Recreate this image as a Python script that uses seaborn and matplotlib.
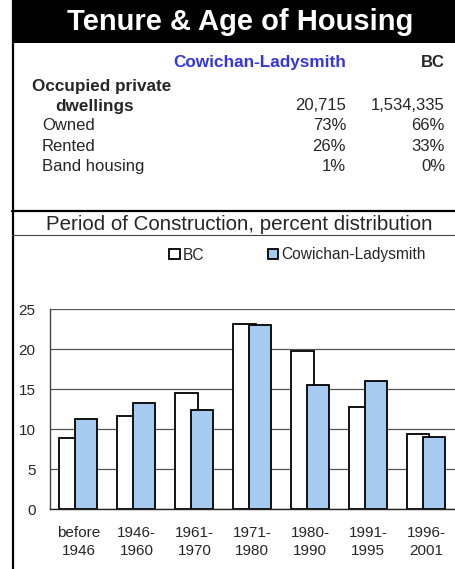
import numpy as np
import matplotlib
matplotlib.use("Agg")
import matplotlib.pyplot as plt
from matplotlib.lines import Line2D
from matplotlib.patches import Rectangle, Patch
import seaborn as sns

# data
periods = ["before\n1946", "1946-\n1960", "1961-\n1970", "1971-\n1980",
           "1980-\n1990", "1991-\n1995", "1996-\n2001"]
bc_pct = [8.9, 11.7, 14.5, 23.2, 19.75, 12.8, 9.4]
cl_pct = [11.3, 13.3, 12.4, 23.1, 15.5, 16.1, 9.0]

row_labels = ["Owned", "Rented", "Band housing"]
cl_values = ["73%", "26%", "1%"]
bc_values = ["66%", "33%", "0%"]
cl_dwellings = "20,715"
bc_dwellings = "1,534,335"

sns.set_style("white")
plt.rcParams["font.family"] = ["Liberation Sans", "DejaVu Sans"]

W, H = 455, 569
fig = plt.figure(figsize=(W / 100, H / 100), dpi=100)


def fx(x):
    return x / W


def fy(y):
    return 1 - y / H


# header band
fig.add_artist(Rectangle((fx(12), fy(43)), 1 - fx(12), 43 / H,
                         transform=fig.transFigure, facecolor="black", edgecolor="none"))
fig.text(fx(240), fy(22), "Tenure & Age of Housing", color="white", fontsize=21,
         fontweight="bold", ha="center", va="center")

# frame lines
fig.add_artist(Line2D([fx(12.5), fx(12.5)], [0, 1], transform=fig.transFigure,
                      color="black", lw=1.6))
fig.add_artist(Line2D([fx(12), 1], [fy(210.5), fy(210.5)], transform=fig.transFigure,
                      color="black", lw=1.6))
fig.add_artist(Line2D([fx(12), 1], [fy(235), fy(235)], transform=fig.transFigure,
                      color="#444444", lw=0.8))

# table
blue_txt = "#3535DD"
fig.text(fx(346), fy(67), "Cowichan-Ladysmith", color=blue_txt, fontsize=12.3,
         fontweight="bold", ha="right", va="baseline")
fig.text(fx(445), fy(67), "BC", fontsize=12, fontweight="bold", ha="right", va="baseline")
fig.text(fx(32), fy(91), "Occupied private", fontsize=12.3, fontweight="bold", va="baseline")
fig.text(fx(55), fy(110.5), "dwellings", fontsize=12.3, fontweight="bold", va="baseline")
fig.text(fx(346), fy(110.5), cl_dwellings, fontsize=12, ha="right", va="baseline")
fig.text(fx(445), fy(110.5), bc_dwellings, fontsize=12, ha="right", va="baseline")
for i, (lab, c, b) in enumerate(zip(row_labels, cl_values, bc_values)):
    yb = 130.5 + i * 20.2
    fig.text(fx(42), fy(yb), lab, fontsize=12, va="baseline")
    fig.text(fx(346), fy(yb), c, fontsize=12, ha="right", va="baseline")
    fig.text(fx(445), fy(yb), b, fontsize=12, ha="right", va="baseline")

fig.text(fx(239), fy(230.5), "Period of Construction, percent distribution",
         fontsize=14.8, ha="center", va="baseline")

# chart
ax = fig.add_axes([fx(49.5), 59.7 / H, (W - 49.5) / W, 200 / H])
x = np.arange(len(periods))
offset = 0.135
sns.barplot(x=x - offset, y=bc_pct, native_scale=True, width=0.386, color="white",
            edgecolor="black", linewidth=1.3, saturation=1, errorbar=None, ax=ax)
sns.barplot(x=x + offset, y=cl_pct, native_scale=True, width=0.386, color="#A6CAF0",
            edgecolor="black", linewidth=1.3, saturation=1, errorbar=None, ax=ax)

ax.set_xlim(-0.5, 6.5)
ax.set_ylim(0, 25)
ax.set_yticks(range(0, 26, 5))
ax.set_xticks(x)
ax.set_xticklabels(periods, linespacing=1.38)
ax.tick_params(axis="x", length=0, pad=12, labelsize=11)
ax.tick_params(axis="y", length=0, pad=10, labelsize=11)
ax.set_axisbelow(True)
ax.yaxis.grid(True, color="#555555", lw=0.9)
ax.xaxis.grid(False)
for s in ["top", "right"]:
    ax.spines[s].set_visible(False)
ax.spines["left"].set_color("#444444")
ax.spines["left"].set_linewidth(1.0)
ax.spines["bottom"].set_color("#222222")
ax.spines["bottom"].set_linewidth(1.0)
ax.set_xlabel("")
ax.set_ylabel("")

handles = [Patch(facecolor="white", edgecolor="black", lw=1.3, label="BC"),
           Patch(facecolor="#A6CAF0", edgecolor="black", lw=1.3, label="Cowichan-Ladysmith")]
fig.legend(handles=handles, loc="center", bbox_to_anchor=(fx(297.5), fy(255)), ncol=2,
           frameon=False, fontsize=11.2, handlelength=0.65, handleheight=0.65,
           handletextpad=0.2, columnspacing=4.1, borderpad=0, borderaxespad=0)

fig.savefig("out.png", dpi=100)
